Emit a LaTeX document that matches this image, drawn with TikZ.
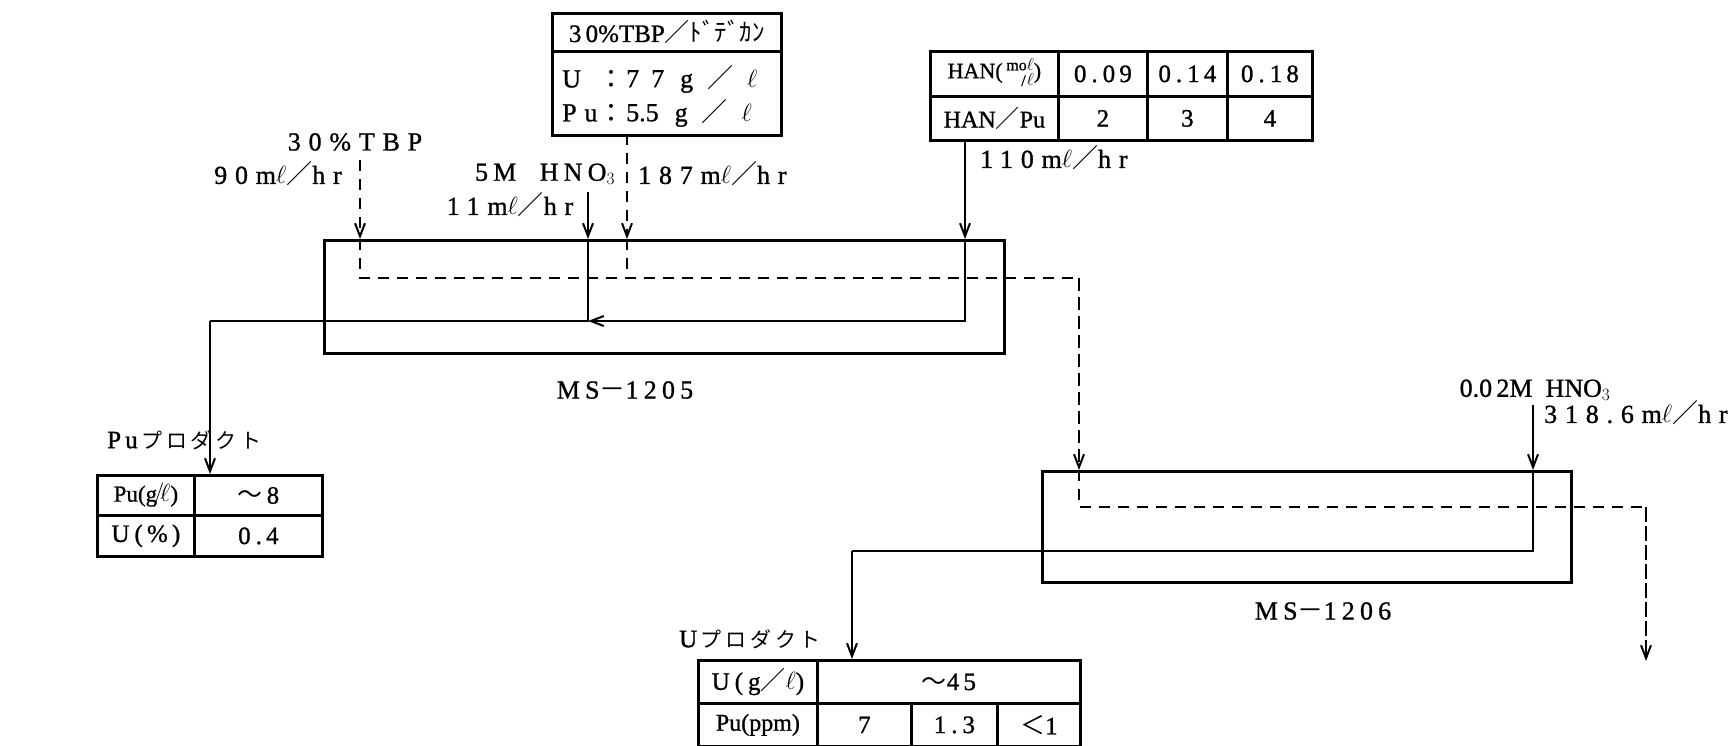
\documentclass[tikz,border=0pt]{standalone}
\usepackage{fontspec}
\setmainfont{Liberation Serif}
\newfontfamily\jp{Noto Sans CJK JP}
\newfontfamily\jpw{Noto Sans CJK JP}[LetterSpace=18]
\newfontfamily\wsf{Liberation Serif}[LetterSpace=20,FakeBold=1]
\newfontfamily\wsfw{Liberation Serif}[LetterSpace=30,FakeBold=1]
\newfontfamily\nsf{Liberation Serif}[FakeBold=1]
\usetikzlibrary{arrows.meta}
\newcommand\myell{\ensuremath{\ell}}
\newcommand\fsl{{\jp ／}}
\begin{document}
\begin{tikzpicture}[x=1pt,y=-1pt,
  sline/.style={line width=2.8pt},
  dline/.style={line width=2.8pt, dash pattern=on 11pt off 8pt},
  arr/.style={-{Straight Barb[length=13pt,width=10pt,line width=2pt]}},
  cell/.style={draw,line width=2.8pt,inner sep=0pt,anchor=north west,font=\fontsize{25}{27}\selectfont\wsf},
  box/.style={draw,line width=2.8pt,inner sep=0pt,anchor=north west},
  txt/.style={inner sep=0pt,font=\fontsize{26}{28}\selectfont\wsf},
  ntxt/.style={inner sep=0pt,font=\fontsize{26}{28}\selectfont\nsf},
  ftxt/.style={inner sep=0pt,font=\fontsize{26}{28}\selectfont\wsfw},
  jtxt/.style={inner sep=0pt,font=\fontsize{21}{24}\selectfont\jpw}
]
\useasboundingbox (0,0) rectangle (1736,745);

% feed box
\node[cell,minimum width=229,minimum height=38,font=\fontsize{25}{27}\selectfont\nsf] (fdtitle) at (551,12) {3\,0\%TBP\fsl{\jp ﾄﾞﾃﾞｶﾝ}};
\node[cell,minimum width=229,minimum height=84] (fdbody) at (551,50) {};
\node[ftxt,anchor=west] (fu) at (562,79) {U};
\node[ftxt] (fuc) at (611,79) {\jp ：};
\node[ntxt,anchor=west] (fuv) at (626,79) {7\hspace{12pt}7\hspace{16pt}g\hspace{14pt}\fsl\hspace{14pt}\myell};
\node[ftxt,anchor=west] (fp) at (562,113) {Pu};
\node[ftxt] (fpc) at (611,113) {\jp ：};
\node[ntxt,anchor=west] (fpv) at (626,113) {5.5\hspace{16pt}g\hspace{14pt}\fsl\hspace{14pt}\myell};

% HAN table
\node[cell,minimum width=128,minimum height=45,font=\fontsize{22}{24}\selectfont\nsf] (h11) at (929,50) {HAN(\,{\fontsize{16}{12}\selectfont\begin{tabular}{@{}r@{}}mo$\ell$\\/\kern1pt$\ell$\end{tabular}})};
\node[cell,minimum width=89,minimum height=45] (h12) at (1057,50) {0.0\,9};
\node[cell,minimum width=80,minimum height=45] (h13) at (1146,50) {0.1\,4};
\node[cell,minimum width=85,minimum height=45] (h14) at (1226,50) {0.1\,8};
\node[cell,minimum width=128,minimum height=44,font=\fontsize{24}{26}\selectfont\nsf] (h21) at (929,95) {HAN\fsl Pu};
\node[cell,minimum width=89,minimum height=44] (h22) at (1057,95) {2};
\node[cell,minimum width=80,minimum height=44] (h23) at (1146,95) {3};
\node[cell,minimum width=85,minimum height=44] (h24) at (1226,95) {4};

% columns
\node[box,minimum width=680,minimum height=113] (ms5) at (323,239) {};
\node[box,minimum width=529,minimum height=111] (ms6) at (1041,470) {};
\node[txt] (ms5l) at (625,390) {MS{\jp －}1205};
\node[txt] (ms6l) at (1323,611) {MS{\jp －}1206};

% Pu product table
\node[jtxt,anchor=west] (pul) at (107,440) {{\fontsize{25}{27}\selectfont\wsf P\,u}\,プロダクト};
\node[cell,minimum width=97,minimum height=40,font=\fontsize{23}{25}\selectfont\nsf] (p11) at (96,474) {Pu(g$\!/\!\ell$)};
\node[cell,minimum width=128,minimum height=40] (p12) at (193,474) {{\jp ～}\,8};
\node[cell,minimum width=97,minimum height=41] (p21) at (96,514) {U(\,\%\,)};
\node[cell,minimum width=128,minimum height=41] (p22) at (193,514) {0.\,4};

% U product table
\node[jtxt,anchor=west] (ul) at (679,639) {{\fontsize{25}{27}\selectfont\wsf U}\,プロダクト};
\node[cell,minimum width=119,minimum height=43] (u11) at (697,659) {U(g\fsl\myell)};
\node[cell,minimum width=263,minimum height=43] (u12) at (816,659) {{\jp ～}4\,5};
\node[cell,minimum width=119,minimum height=43,font=\fontsize{24}{26}\selectfont\nsf] (u21) at (697,702) {Pu(ppm)};
\node[cell,minimum width=94,minimum height=43] (u22) at (816,702) {7};
\node[cell,minimum width=86,minimum height=43] (u23) at (910,702) {1.3};
\node[cell,minimum width=83,minimum height=43] (u24) at (996,702) {{\jp ＜}1};

% labels
\node[ftxt] (tbp1) at (355,142) {30\%TBP};
\node[ftxt] (tbp2) at (278,174) {90m\myell\fsl hr};
\node[txt] (hno1) at (545,174) {5M\ \ HNO$_3$};
\node[ftxt] (hno2) at (510,205) {11m\myell\fsl hr};
\node[ftxt,anchor=west] (fdr) at (638,174) {187m\myell\fsl hr};
\node[ftxt,anchor=west] (hanr) at (980,158) {110m\myell\fsl hr};
\node[ntxt] (sc1) at (1535,390) {0.0\,2M\ \ HNO$_3$};
\node[ftxt,anchor=west] (sc2) at (1544,413) {318.6m\myell\fsl hr};

% coordinates
\coordinate (tbpS) at (360,160);
\coordinate (tbpA) at (360,239);
\coordinate (tbpB) at (360,278);
\coordinate (tbpC) at (1079,278);
\coordinate (tbpD) at (1079,470);
\coordinate (tbpE) at (1079,507);
\coordinate (tbpF) at (1646,507);
\coordinate (tbpG) at (1646,661);
\coordinate (fdS) at (627,134);
\coordinate (fdA) at (627,239);
\coordinate (fdB) at (627,278);
\coordinate (hnS) at (588,192);
\coordinate (hnA) at (588,239);
\coordinate (hnB) at (588,321);
\coordinate (puB) at (210,321);
\coordinate (puC) at (210,474);
\coordinate (haS) at (965,139);
\coordinate (haA) at (965,239);
\coordinate (haB) at (965,321);
\coordinate (scS) at (1533,405);
\coordinate (scA) at (1533,470);
\coordinate (scB) at (1533,551);
\coordinate (uB) at (852,551);
\coordinate (uC) at (852,659);

% dashed organic stream
\draw[dline,arr] (tbpS) -- (tbpA);
\draw[dline] (tbpA) -- (tbpB) -- (tbpC) -- (tbpD);
\draw[dline,arr] (tbpC) -- (tbpD);
\draw[dline] (tbpD) -- (tbpE) -- (tbpF) -- (tbpG);
\draw[dline,arr] (tbpF) -- (tbpG);
\draw[dline,arr] (fdS) -- (fdA);
\draw[dline] (fdA) -- (fdB);

% solid aqueous streams
\draw[sline,arr] (hnS) -- (hnA);
\draw[sline] (hnA) -- (hnB) -- (puB);
\draw[sline,arr] (puB) -- (puC);
\draw[sline,arr] (haS) -- (haA);
\draw[sline,arr] (haA) -- (haB) -- (hnB);
\draw[sline,arr] (scS) -- (scA);
\draw[sline] (scA) -- (scB) -- (uB);
\draw[sline,arr] (uB) -- (uC);
\end{tikzpicture}
\end{document}
